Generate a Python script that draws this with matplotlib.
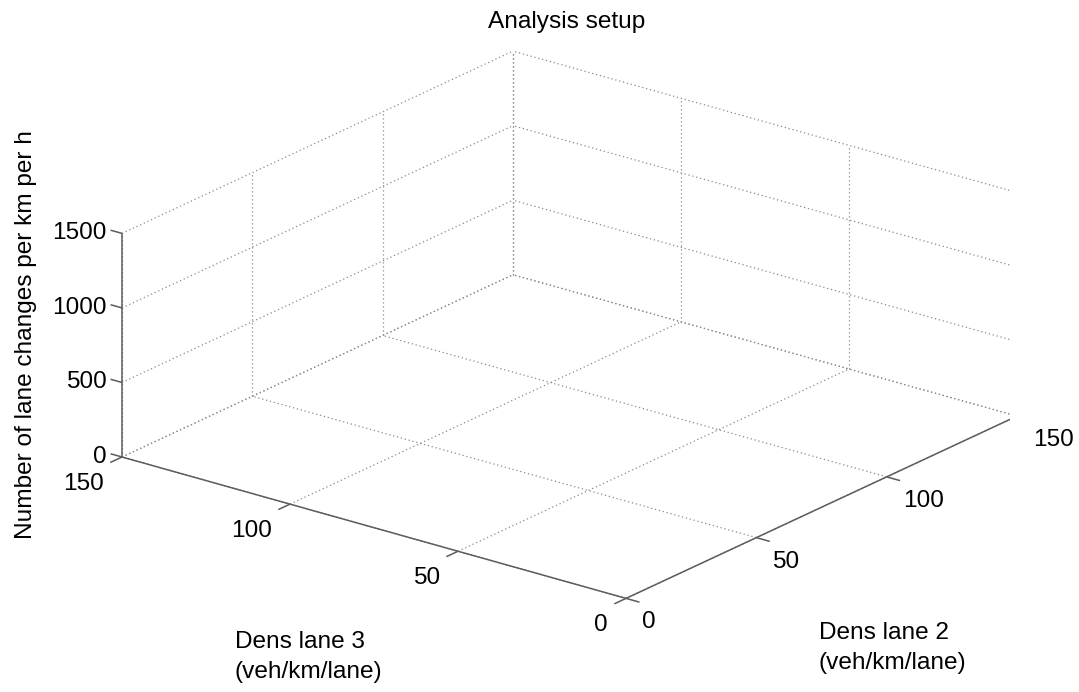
import matplotlib
matplotlib.use('Agg')
import matplotlib.pyplot as plt
from mpl_toolkits.mplot3d import proj3d

# axis ticks (empty analysis setup, no data yet)
x_ticks = [0, 50, 100, 150]        # Dens lane 2
y_ticks = [0, 50, 100, 150]        # Dens lane 3
z_ticks = [0, 500, 1000, 1500]     # lane changes
x_lim = (0, 150)
y_lim = (0, 150)
z_lim = (0, 1500)

title = "Analysis setup"
x_label = "Dens lane 2\n(veh/km/lane)"
y_label = "Dens lane 3\n(veh/km/lane)"
z_label = "Number of lane changes per km per h"

plt.rcParams['font.family'] = ['Liberation Sans', 'DejaVu Sans']
FS = 17.6
W, H = 1079, 692

fig = plt.figure(figsize=(W / 100, H / 100), dpi=100)
ax = fig.add_axes([0.05, 0.05, 0.9, 0.9], projection='3d')
ax.set_proj_type('ortho')
ax.view_init(elev=21.2, azim=-142.2)
ax.set_box_aspect((1, 1, 0.376))
ax.set_xlim(*x_lim)
ax.set_ylim(*y_lim)
ax.set_zlim(*z_lim)
# the built-in 3D decorations are replaced by the MATLAB-like ones below
ax.set_xticks([])
ax.set_yticks([])
ax.set_zticks([])
ax.set_axis_off()
for t in (ax.title, ax._left_title, ax._right_title):
    t.set_visible(False)

x0, x1 = x_lim
y0, y1 = y_lim
z0, z1 = z_lim

grid_kw = dict(color='#8a8a8a', lw=0.9, ls=(0, (1, 2.2)))
axis_kw = dict(color='#5c5c5c', lw=1.1, solid_capstyle='butt')

# dotted grid on the floor and the two back walls
for xv in x_ticks:
    ax.plot([xv, xv], [y0, y1], [z0, z0], **grid_kw)
    ax.plot([xv, xv], [y1, y1], [z0, z1], **grid_kw)
for yv in y_ticks:
    ax.plot([x0, x1], [yv, yv], [z0, z0], **grid_kw)
    ax.plot([x1, x1], [yv, yv], [z0, z1], **grid_kw)
for zv in z_ticks:
    ax.plot([x0, x1], [y1, y1], [zv, zv], **grid_kw)
    ax.plot([x1, x1], [y0, y1], [zv, zv], **grid_kw)

# solid axis lines
ax.plot([x0, x1], [y0, y0], [z0, z0], **axis_kw)
ax.plot([x0, x0], [y0, y1], [z0, z0], **axis_kw)
ax.plot([x0, x0], [y1, y1], [z0, z1], **axis_kw)

# tick marks, pointing out of the box
xt_len = 4.0
yt_len = 4.5
zt_len = 3.4
for xv in x_ticks:
    ax.plot([xv, xv], [y0, y0 - xt_len], [z0, z0], **axis_kw)
for yv in y_ticks:
    ax.plot([x0, x0 - yt_len], [yv, yv], [z0, z0], **axis_kw)
for zv in z_ticks:
    ax.plot([x0, x0], [y1, y1 + zt_len], [zv, zv], **axis_kw)


def to_px(x, y, z):
    xs, ys, _ = proj3d.proj_transform(x, y, z, ax.get_proj())
    return ax.transData.transform((xs, ys))


# place the box where it sits in the reference
tgt_left = (122, H - 457)    # (x0, y1, z0) corner
tgt_right = (1017, H - 418)  # (x1, y0, z0) corner
for _ in range(4):
    fig.canvas.draw()
    pl = to_px(x0, y1, z0)
    pr = to_px(x1, y0, z0)
    s = (tgt_right[0] - tgt_left[0]) / (pr[0] - pl[0])
    bx = tgt_left[0] - s * pl[0]
    by = tgt_left[1] - s * pl[1]
    pos = ax.get_position(original=True)
    nx0 = (s * pos.x0 * W + bx) / W
    ny0 = (s * pos.y0 * H + by) / H
    ax.set_position([nx0, ny0, s * pos.width, s * pos.height])
fig.canvas.draw()


def tick_label(pt, text, dx, dy, ha):
    px, py = to_px(*pt)
    fig.text((px + dx) / W, (py + dy) / H, text, ha=ha, va='center', fontsize=FS)


# tick labels, offset in pixels from the projected tick position
for xv in x_ticks:
    tick_label((xv, y0, z0), str(xv), 16, -24, 'left')
for yv in y_ticks:
    tick_label((x0, yv, z0), str(yv), -18, -27, 'right')
for zv in z_ticks:
    tick_label((x0, y1, zv), str(zv), -15, 0, 'right')

fig.text(567 / W, 1 - 22 / H, title, ha='center', va='center', fontsize=FS)
fig.text(235 / W, 1 - 657 / H, y_label, ha='left', va='center', fontsize=FS,
         linespacing=1.45)
fig.text(819 / W, 1 - 648 / H, x_label, ha='left', va='center', fontsize=FS,
         linespacing=1.45)
fig.text(26 / W, 1 - 335 / H, z_label, ha='center', va='center', fontsize=FS,
         rotation=90)

fig.savefig('out.png', dpi=100)
